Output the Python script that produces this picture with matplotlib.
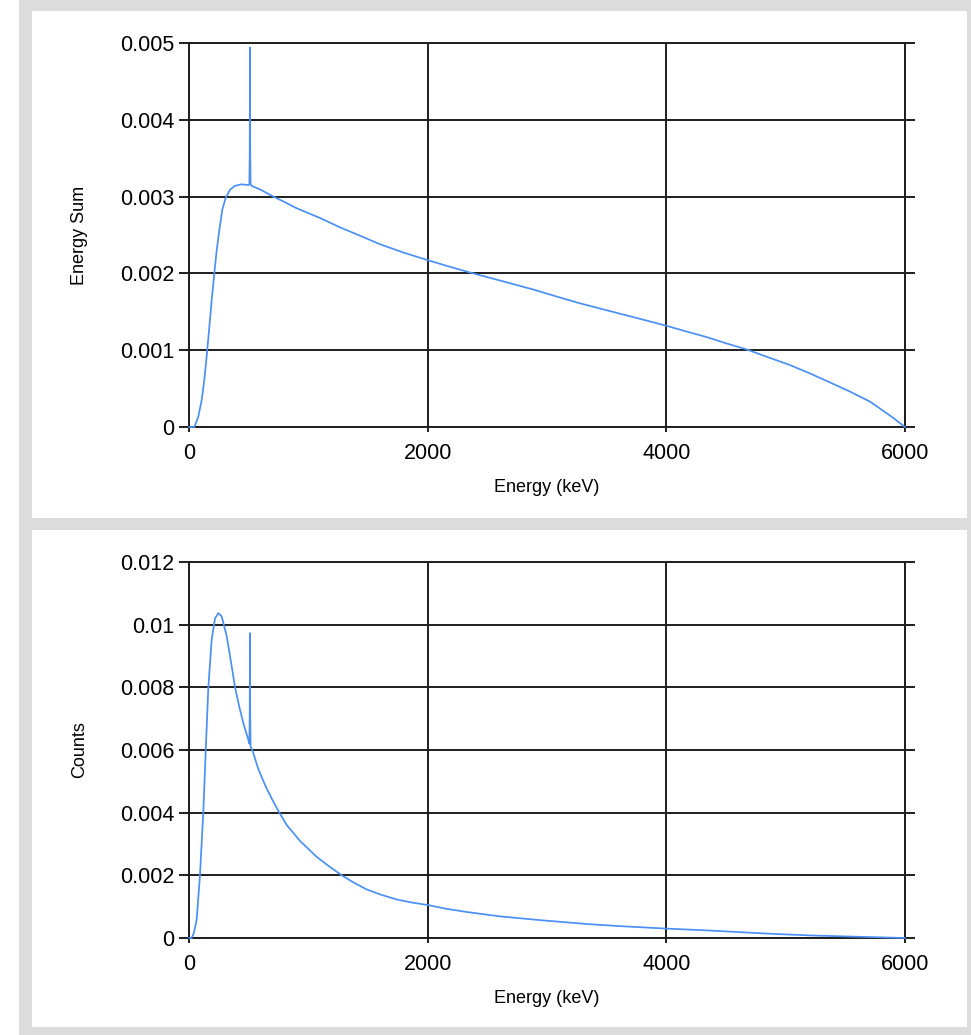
import matplotlib
matplotlib.use("Agg")
import matplotlib.pyplot as plt
from matplotlib.patches import Rectangle
from matplotlib.ticker import FixedLocator, FixedFormatter

# ---------------- data ----------------
energy_top = [0, 45, 78, 106, 128, 148, 168, 190, 212, 232, 254, 279, 307, 344, 385,
              441, 498, 506, 509, 511, 513, 516, 525, 600, 707, 800, 900, 1100, 1265,
              1450, 1600, 1800, 2005, 2200, 2382, 2600, 2885, 3100, 3277, 3600, 3800,
              3995, 4200, 4340, 4500, 4673, 4850, 5030, 5200, 5372, 5540, 5707, 5800,
              5900, 6000]
energy_sum = [0, 0, 0.000134, 0.00035, 0.00061, 0.00092, 0.00126, 0.00165, 0.002,
              0.0023, 0.00256, 0.00283, 0.00298, 0.00309, 0.00314, 0.00316, 0.00315,
              0.00316, 0.0036, 0.00494, 0.0036, 0.00316, 0.00314, 0.00309, 0.003,
              0.00293, 0.00285, 0.00272, 0.0026, 0.00248, 0.00238, 0.00227, 0.00217,
              0.00208, 0.002, 0.00191, 0.00179, 0.00169, 0.00161, 0.00148, 0.0014,
              0.00132, 0.00123, 0.00117, 0.00109, 0.00101, 0.00091, 0.00081, 0.0007,
              0.00058, 0.00046, 0.00033, 0.00023, 0.00012, 0.0]

energy_bot = [0, 22, 40, 64, 92, 120, 140, 162, 190, 218, 246, 274, 316, 350, 386, 420,
              455, 497, 506, 509, 511, 513, 516, 530, 580, 642, 700, 754, 820, 930, 1070,
              1180, 1280, 1380, 1489, 1610, 1740, 1870, 2005, 2160, 2327, 2606, 2941,
              3355, 3650, 4000, 4300, 4601, 4900, 5224, 5600, 5910, 6000]
counts = [0, 0, 0.00015, 0.00058, 0.002, 0.00404, 0.00596, 0.008, 0.00952, 0.0102,
          0.01037, 0.01026, 0.00963, 0.00885, 0.008, 0.0074, 0.00686, 0.00633, 0.0062,
          0.0072, 0.00973, 0.0072, 0.0061, 0.00601, 0.0054, 0.00484, 0.0044, 0.00402,
          0.0036, 0.0031, 0.00259, 0.00227, 0.002, 0.00177, 0.00155, 0.00138, 0.00123,
          0.00113, 0.00105, 0.00093, 0.00083, 0.00069, 0.00057, 0.00044, 0.00037,
          0.0003, 0.00025, 0.00019, 0.00013, 0.00008, 0.00004, 0.00001, 0.0]

x_ticks = [0, 2000, 4000, 6000]
x_tick_labels = ["0", "2000", "4000", "6000"]
top_y_ticks = [0, 0.001, 0.002, 0.003, 0.004, 0.005]
top_y_labels = ["0", "0.001", "0.002", "0.003", "0.004", "0.005"]
bot_y_ticks = [0, 0.002, 0.004, 0.006, 0.008, 0.010, 0.012]
bot_y_labels = ["0", "0.002", "0.004", "0.006", "0.008", "0.01", "0.012"]

x_label = "Energy (keV)"
top_y_label = "Energy Sum"
bot_y_label = "Counts"

# ---------------- figure ----------------
W, H = 971, 1035
plt.rcParams['font.family'] = ['Liberation Sans', 'DejaVu Sans']
fig = plt.figure(figsize=(W / 100, H / 100), dpi=100)
fig.patch.set_facecolor('#dcdcdc')

def frect(x0, y0, x1, y1, color):
    fig.add_artist(Rectangle((x0 / W, 1 - y1 / H), (x1 - x0) / W, (y1 - y0) / H,
                             transform=fig.transFigure, facecolor=color,
                             edgecolor='none', zorder=-10))

frect(0, 0, 19, H, 'white')
frect(32, 11, 967, 518, 'white')
frect(32, 530, 967, 1027, 'white')

grid_color = '#1e1e1e'
line_color = '#4a90f5'

def make_axes(top, bottom, yticks, ylabels, ymax, xdata, ydata, ylab):
    ax = fig.add_axes([189 / W, 1 - bottom / H, 716 / W, (bottom - top) / H])
    ax.set_facecolor('none')
    ax.plot(xdata, ydata, color=line_color, lw=1.25, zorder=3, clip_on=False,
            solid_joinstyle='round')
    ax.set_xlim(0, 6000)
    ax.set_ylim(0, ymax)
    ax.xaxis.set_major_locator(FixedLocator(x_ticks))
    ax.xaxis.set_major_formatter(FixedFormatter(x_tick_labels))
    ax.yaxis.set_major_locator(FixedLocator(yticks))
    ax.yaxis.set_major_formatter(FixedFormatter(ylabels))
    ax.grid(True, color=grid_color, lw=1.4, zorder=1)
    for s in ax.spines.values():
        s.set_color(grid_color)
        s.set_linewidth(1.4)
    ax.tick_params(axis='x', direction='out', length=3.6, width=1.4, color=grid_color,
                   labelsize=15.5, pad=8, labelcolor='black')
    ax.tick_params(axis='y', which='major', direction='out', length=7.2, width=1.4,
                   color=grid_color, labelsize=15.5, pad=3.5, labelcolor='black',
                   right=True)
    ax.set_xlabel(x_label, fontsize=13, labelpad=11)
    ax.set_ylabel(ylab, fontsize=13)
    ax.yaxis.set_label_coords((88 - 189) / 716, 0.5)
    ax.set_axisbelow(True)
    return ax

ax1 = make_axes(43, 427, top_y_ticks, top_y_labels, 0.005, energy_top, energy_sum, top_y_label)
ax2 = make_axes(562, 938, bot_y_ticks, bot_y_labels, 0.012, energy_bot, counts, bot_y_label)

fig.savefig("out.png", dpi=100, facecolor=fig.get_facecolor())
